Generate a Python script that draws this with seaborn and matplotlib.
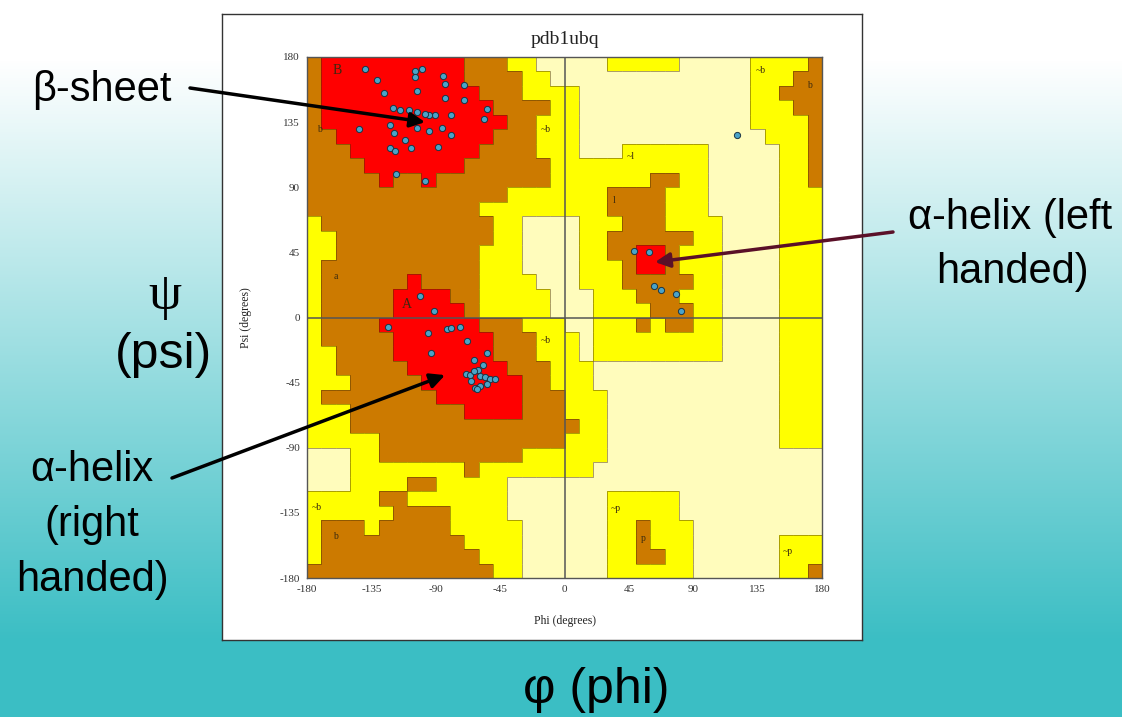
import re
import numpy as np
import matplotlib
matplotlib.use("Agg")
import matplotlib.pyplot as plt
from matplotlib.colors import ListedColormap
from matplotlib.collections import LineCollection
import seaborn as sns

sns.set_style("white")
plt.rcParams["font.family"] = ["Liberation Sans", "DejaVu Sans"]
plt.rcParams["text.color"] = "black"
plt.rcParams["axes.unicode_minus"] = False

# Ramachandran regions on a 10 degree grid, run-length coded.
# rows: psi 180 -> -180, columns: phi -180 -> 180
# R = core, B = allowed, Y = generously allowed, L = disallowed
region_runs = [
    "B1R10B3Y2L2L3Y5L5Y4B1",
    "B1R10B4Y2L1L13Y3B2",
    "B1R11B3Y3Y1L12Y2B3",
    "B1R12B4Y1Y1L12Y3B2",
    "B1R13B2Y2Y1L12Y4B1",
    "B2R11B3Y2Y1L13Y3B1",
    "B3R9B4Y2Y1L3Y6L5Y2B1",
    "B4R7B6Y1Y10L5Y2B1",
    "B5R1B2R1B8Y1Y6B2Y2L5Y2B1",
    "B14Y4Y3B4Y3L5Y3",
    "B12Y6Y3B4Y3L5Y3",
    "Y1B12Y2L3L1Y3B3Y4L4Y3",
    "Y2B11Y2L3L1Y2B6Y2L4Y3",
    "Y2B10Y3L3L1Y2B2R2B1Y3L4Y3",
    "Y1B11Y3L3L1Y3B1R2B1Y3L4Y3",
    "Y1B6R1B4Y4L2L1Y3B5Y2L4Y3",
    "Y1B5R4B2Y5L1L2Y3B3Y3L4Y3",
    "Y1B5R5B1Y5L1L2Y4B3Y2L4Y3",
    "Y1B4R7B3Y3L2Y3B1Y1B2Y2L4Y3",
    "Y1B5R7B3Y2Y1L1Y9L4Y3",
    "Y2B4R7B3Y2Y1L1Y9L4Y3",
    "Y2B5R7B3Y1Y2L13Y3",
    "Y3B5R7B2Y1Y2L13Y3",
    "Y1B8R6B3Y3L12Y3",
    "Y3B8R4B3Y3L12Y3",
    "Y3B15B1Y2L12Y3",
    "Y5B13Y3L12Y3",
    "L3Y2B10Y3Y3L15",
    "L3Y8B1Y6Y2L16",
    "L3Y4B2Y5L4L18",
    "Y5B2Y7L4L3Y5L10",
    "Y6B4Y4L4L3Y5L10",
    "Y1B3Y1B5Y5L3L3Y2B1Y3L9",
    "Y1B10Y4L3L3Y2B1Y3L6Y3",
    "Y1B11Y3L3L3Y2B2Y2L6Y3",
    "B13Y2L3L3Y6L6Y2B1",
]
region_codes = "LYBR"
region_colors = ["#fffcbc", "#ffff00", "#cc7a00", "#ff0000"]

# residues of pdb1ubq (phi, psi)
phi_vals = [-139.2, -131.1, -125.9, -104.3, -99.6, -104.3, -103.1, -85.2, -83.3,
            -70.5, -83.3, -70.5, -54.2, -56.5, -79.3, -90.8, -95.0, -97.3, -103.1,
            -106.6, -108.9, -114.8, -119.9, -121.8, -119.0, -143.9, -103.1, -94.5,
            -85.6, -79.3, -111.7, -107.1, -88.7, -121.8, -118.3, -117.6, -97.3,
            -100.8, -91.5,
            -123.4, -95.7, -82.1, -79.3, -73.3, -68.2, -93.3, -63.5, -54.2, -57.2,
            -60.7, -68.6, -65.8, -63.5, -58.8, -55.3, -52.3, -48.4, -65.4, -62.3,
            -58.8, -54.2, -61.2,
            120.7, 48.9, 59.4, 62.4, 67.6, 78.1, 81.6]
psi_vals = [171.5, 164.3, 155.3, 170.3, 171.5, 166.2, 156.3, 166.6, 161.6,
            160.4, 151.7, 150.0, 144.3, 137.4, 139.7, 139.7, 139.7, 140.4, 142.0,
            137.4, 143.1, 143.1, 145.0, 132.8, 127.5, 130.5, 131.2, 128.9,
            131.2, 125.9, 122.4, 117.1, 117.8, 117.3, 114.8, 98.9, 94.3,
            14.6, 4.4,
            -6.5, -10.4, -8.1, -7.6, -6.9, -16.1, -24.2, -29.5, -24.2, -32.7,
            -36.4, -38.7, -39.6, -36.9, -40.3, -41.0, -42.6, -42.6, -43.8, -48.4,
            -47.2, -46.1, -49.5,
            125.9, 45.9, 45.2, 21.5, 19.2, 16.0, 4.4]

# region letters printed inside the plot
glyph_text = ["B", "b", "A", "a", "~b", "~b", "~b", "b", "~b", "b", "~l", "l",
              "~p", "p", "~p"]
glyph_phi = [-159, -171, -110, -160, -13, -13, -173, -160, 137, 171, 46, 35,
             36, 55, 156]
glyph_psi = [171, 130, 9, 28, 130, -16, -131, -151, 171, 160, 111, 81,
             -132, -153, -162]

ticks = [-180, -135, -90, -45, 0, 45, 90, 135, 180]

grid = []
for row in region_runs:
    cells = []
    for code, n in re.findall(r"([RBYL])(\d+)", row):
        cells += [region_codes.index(code)] * int(n)
    grid.append(cells)
grid = np.array(grid)

W, H = 1122, 717
fig = plt.figure(figsize=(W / 100, H / 100), dpi=100)

# background gradient
bg = fig.add_axes([0, 0, 1, 1], zorder=-10)
yy = np.arange(H)
t = np.clip((yy - 60) / 580, 0, 1)[:, None]
top = np.array([1.0, 1.0, 1.0])
bot = np.array([59, 190, 196]) / 255
grad = top * (1 - t) + bot * t
bg.imshow(grad[:, None, :], aspect="auto", extent=[0, 1, 0, 1], origin="upper")
bg.axis("off")

def fx(x):
    return x / W

def fy(y):
    return 1 - y / H

# white panel
panel = fig.add_axes([fx(222), fy(640), 640 / W, 626 / H], zorder=-5)
panel.set_xticks([])
panel.set_yticks([])
for s in panel.spines.values():
    s.set_color("#333333")
    s.set_linewidth(1)

ax = fig.add_axes([fx(307), fy(578), 515 / W, 521 / H])
phi_edges = np.arange(-180, 181, 10)
psi_edges = np.arange(-180, 181, 10)
ax.pcolormesh(phi_edges, psi_edges, grid[::-1], cmap=ListedColormap(region_colors),
              vmin=-0.5, vmax=3.5, zorder=1)

# thin borders between regions
segs = []
n = grid.shape[0]
for i in range(n):
    for j in range(n):
        y0, y1 = 180 - 10 * i, 170 - 10 * i
        x0, x1 = -180 + 10 * j, -170 + 10 * j
        if j + 1 < n and grid[i, j] != grid[i, j + 1]:
            segs.append([(x1, y0), (x1, y1)])
        if i + 1 < n and grid[i, j] != grid[i + 1, j]:
            segs.append([(x0, y1), (x1, y1)])
ax.add_collection(LineCollection(segs, colors="#4a3000", linewidths=0.6,
                                 alpha=0.55, zorder=2))

ax.axhline(0, color="#555555", lw=1.1, zorder=3)
ax.axvline(0, color="#555555", lw=1.1, zorder=3)

for g, gx, gy in zip(glyph_text, glyph_phi, glyph_psi):
    big = g in ("A", "B")
    ax.text(gx, gy, g, fontsize=10 if big else 7, ha="center", va="center",
            color="#3a2a10", family="Liberation Serif", zorder=4)

sns.scatterplot(x=phi_vals, y=psi_vals, ax=ax, s=20, color="#4aa3c8",
                edgecolor="#1a3545", linewidth=0.7, zorder=5)

ax.set_xlim(-180, 180)
ax.set_ylim(-180, 180)
ax.set_xticks(ticks)
ax.set_yticks(ticks)
ax.tick_params(direction="out", length=3, width=0.8, labelsize=8, colors="#333333", pad=2)
for lab in ax.get_xticklabels() + ax.get_yticklabels():
    lab.set_family("Liberation Serif")
for s in ax.spines.values():
    s.set_color("#555555")
    s.set_linewidth(1)

serif = ["Liberation Serif", "DejaVu Serif"]
fig.text(fx(565), fy(39), "pdb1ubq", ha="center", va="center", fontsize=14,
         family=serif, color="#222222")
fig.text(fx(565), fy(621), "Phi (degrees)", ha="center", va="center", fontsize=8.5,
         family=serif, color="#222222")
fig.text(fx(246), fy(318), "Psi (degrees)", ha="center", va="center", fontsize=8.5,
         family=serif, color="#222222", rotation=90)

# outer labels
fig.text(fx(102), fy(90), "β-sheet", ha="center", va="center", fontsize=30)
fig.text(fx(1010), fy(218), "α-helix (left", ha="center", va="center", fontsize=30)
fig.text(fx(1012), fy(272), "handed)", ha="center", va="center", fontsize=30)
fig.text(fx(92), fy(470), "α-helix", ha="center", va="center", fontsize=30)
fig.text(fx(92), fy(525), "(right", ha="center", va="center", fontsize=30)
fig.text(fx(92), fy(580), "handed)", ha="center", va="center", fontsize=30)
fig.text(fx(165), fy(296), "ψ", ha="center", va="center", fontsize=38,
         family=serif)
fig.text(fx(163), fy(355), "(psi)", ha="center", va="center", fontsize=36)
fig.text(fx(596), fy(690), "φ (phi)", ha="center", va="center", fontsize=36)

arrow_k = dict(arrowstyle="-|>", color="black", lw=2.5, mutation_scale=22,
               shrinkA=0, shrinkB=0)
arrow_m = dict(arrow_k, color="#5a1028")
ax.annotate("", xy=(-97.5, 135), xycoords="data",
            xytext=(fx(190), fy(88)), textcoords="figure fraction",
            arrowprops=arrow_k, zorder=6)
ax.annotate("", xy=(-83.5, -39.8), xycoords="data",
            xytext=(fx(172), fy(478)), textcoords="figure fraction",
            arrowprops=arrow_k, zorder=6)
ax.annotate("", xy=(63.3, 38.3), xycoords="data",
            xytext=(fx(893), fy(232)), textcoords="figure fraction",
            arrowprops=arrow_m, zorder=6)

fig.savefig("out.png", dpi=100)
